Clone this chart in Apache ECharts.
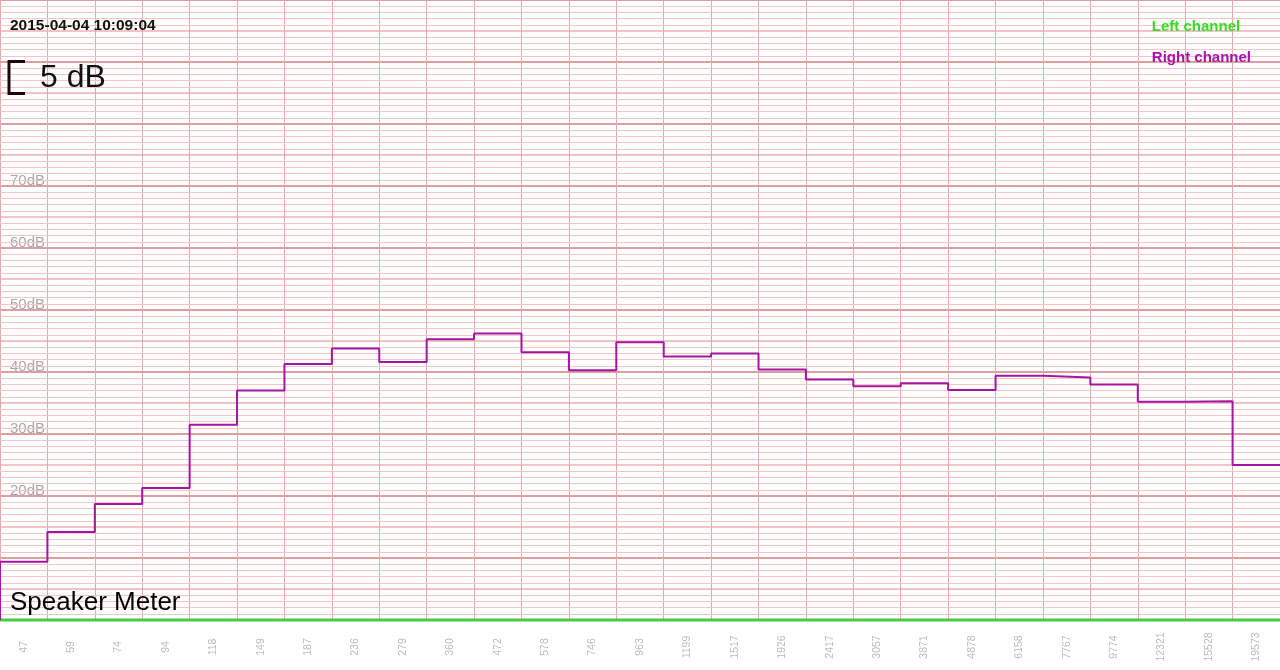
<!DOCTYPE html>
<html>
<head>
<meta charset="utf-8">
<script src="https://cdn.jsdelivr.net/npm/echarts@6/dist/echarts.min.js"></script>
<style>
html,body{margin:0;padding:0;background:#fff;}
#chart{width:1280px;height:670px;}
</style>
</head>
<body>
<div id="chart"></div>
<script>
// ---- data ----
var frequencies = ['47','59','74','94','118','149','187','236','279','360','472','578','746','963','1199','1517','1926','2417','3057','3871','4878','6158','7767','9774','12321','15528','19573'];
var rightChannel = [9.4,14.2,18.7,21.3,31.5,37.0,41.3,43.8,41.6,45.3,46.2,43.2,40.3,44.8,42.5,43.0,40.4,38.8,37.7,38.2,37.1,39.4,39.1,38.0,35.2,35.3,25.0];
var leftChannel = [0,0,0,0,0,0,0,0,0,0,0,0,0,0,0,0,0,0,0,0,0,0,0,0,0,0,0];
var dbLabels = [20,30,40,50,60,70];
var timestamp = '2015-04-04 10:09:04';
var scaleText = '5 dB';
var titleText = 'Speaker Meter';

function stepData(vals){
  var d = [[0,0]];
  for (var i=0;i<vals.length;i++) d.push([i, vals[i]]);
  d.push([vals.length, vals[vals.length-1]]);
  return d;
}
// 1 dB minor grid lines (skip the 5 dB multiples, drawn by the axis)
var minorLines = [];
for (var k=1;k<100;k++){ if (k%5!==0) minorLines.push({yAxis:k}); }

var chart = echarts.init(document.getElementById('chart'));
var font = 'Liberation Sans, Arial, Helvetica, sans-serif';
var gridBottom = 50;

chart.setOption({
  animation:false,
  textStyle:{fontFamily:font},
  title:{text:titleText,left:10,bottom:54,padding:0,z:20,
    textStyle:{fontSize:26,fontWeight:'normal',color:'#000',fontFamily:font}},
  legend:{
    orient:'vertical',right:24,top:14,itemGap:16,z:20,
    icon:'none',itemWidth:0,itemHeight:0,
    selectedMode:false,
    textStyle:{fontSize:15,fontWeight:'bold',fontFamily:font},
    data:[
      {name:'Left channel',textStyle:{color:'#33dd22'}},
      {name:'Right channel',textStyle:{color:'#aa11aa'}}
    ]
  },
  grid:{left:0,right:0,top:0,bottom:gridBottom,containLabel:false},
  xAxis:[
    {type:'category',data:frequencies,boundaryGap:true,
      axisLine:{show:false},axisTick:{show:false},
      splitLine:{show:true,lineStyle:{color:'#e6a8a8',width:1}},
      axisLabel:{rotate:90,interval:0,align:'center',verticalAlign:'middle',margin:27,
        fontSize:10.5,color:'#bbbbbb',fontFamily:font}},
    {type:'value',min:0,max:frequencies.length,show:false,splitLine:{show:false}}
  ],
  yAxis:[
    {type:'value',position:'left',offset:0,min:0,max:100,interval:5,
      axisLabel:{show:false},axisLine:{show:false},axisTick:{show:false},
      splitLine:{show:true,lineStyle:{color:'#f0b0b0',width:1.6}}},
    {type:'value',position:'left',offset:0,min:0,max:100,interval:10,axisLine:{show:false},axisTick:{show:false},
      splitLine:{show:true,lineStyle:{color:'#dc9f9f',width:2}},
      axisLabel:{inside:true,margin:10,verticalAlign:'bottom',lineHeight:10,fontSize:15,color:'#a8a8a8',fontFamily:font,
        formatter:function(v){return dbLabels.indexOf(v)>=0 ? v+'dB' : '';}}}
  ],
  graphic:[
    {type:'text',left:10,top:18,z:100,style:{text:timestamp,font:'bold 15.5px '+font,fill:'#111'}},
    {type:'text',left:40,top:62,z:100,style:{text:scaleText,font:'32px '+font,fill:'#111'}},
    {type:'polyline',z:100,shape:{points:[[25,61.5],[9,61.5],[9,93.5],[25,93.5]]},
      style:{stroke:'#1a0808',lineWidth:3,fill:null}}
  ],
  series:[
    {name:'grid',type:'line',xAxisIndex:1,yAxisIndex:1,data:[],z:0,silent:true,
      markLine:{silent:true,symbol:['none','none'],label:{show:false},animation:false,
        lineStyle:{color:'#f5c6c6',width:1,type:'solid'},emphasis:{disabled:true},
        data:minorLines}},
    {name:'Left channel',type:'line',xAxisIndex:1,yAxisIndex:1,step:'end',
      data:stepData(leftChannel),symbol:'none',clip:false,z:5,
      itemStyle:{color:'#33dd22'},
      lineStyle:{color:'#44cc44',width:3}},
    {name:'Right channel',type:'line',xAxisIndex:1,yAxisIndex:1,step:'end',
      data:stepData(rightChannel),symbol:'none',clip:false,z:6,
      itemStyle:{color:'#aa11aa'},
      lineStyle:{color:'#a614a6',width:2}}
  ]
});
</script>
</body>
</html>
